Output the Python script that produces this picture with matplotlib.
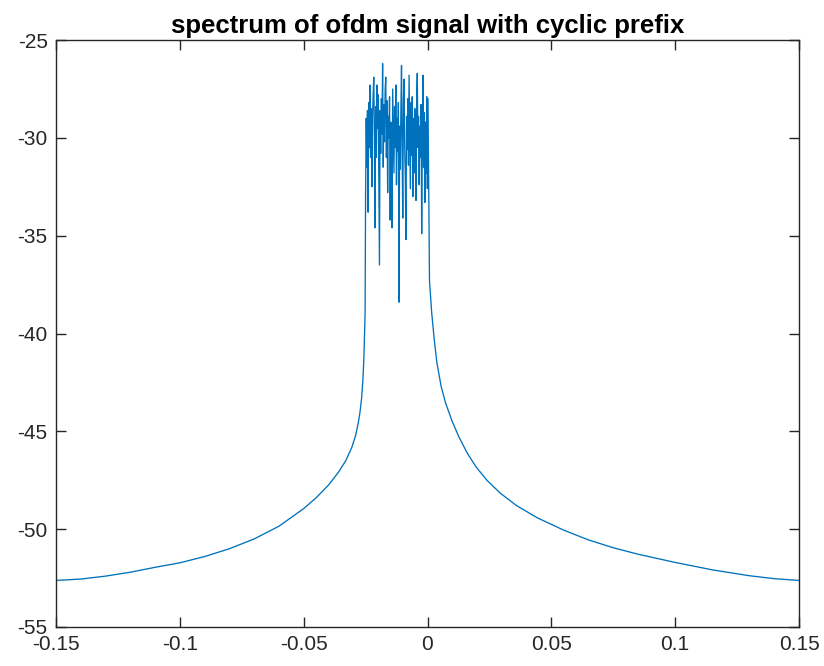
import numpy as np
import matplotlib.pyplot as plt

plt.rcParams['font.family'] = ['Liberation Sans', 'DejaVu Sans']
plt.rcParams['axes.unicode_minus'] = False

# left tail (frequency, dB)
left_f = [-0.150, -0.140, -0.130, -0.120, -0.110, -0.100, -0.090, -0.080, -0.070,
          -0.060, -0.050, -0.045, -0.040, -0.036, -0.033, -0.0305, -0.029, -0.028,
          -0.0273, -0.0266, -0.0261, -0.0257, -0.0254, -0.0252]
left_db = [-52.62, -52.55, -52.40, -52.20, -51.95, -51.72, -51.40, -51.00, -50.50,
           -49.85, -48.95, -48.40, -47.75, -47.10, -46.50, -45.80, -45.20, -44.60,
           -44.06, -43.30, -42.40, -41.30, -40.00, -39.00]

# noisy in-band part, read left to right
band_db = [-33.0, -29.0, -31.5, -28.6, -33.8, -28.2, -30.5,
           -27.3, -31.0, -28.5, -32.5, -29.0, -27.8,
           -26.9, -30.0, -34.6, -28.4, -31.0, -27.3,
           -29.5, -27.8, -32.0, -36.5, -28.6, -30.8, -28.0,
           -29.8, -26.2, -31.5, -28.3, -30.2, -27.6,
           -26.9, -31.0, -28.1, -32.8, -28.9, -30.0,
           -27.9, -34.2, -29.2, -31.2, -34.6, -27.5,
           -29.6, -31.8, -28.4, -30.5, -27.3, -32.4, -29.0,
           -30.7, -28.2, -38.4, -29.4, -31.6, -28.6,
           -26.3, -30.8, -34.1, -28.1, -27.0, -30.4,
           -32.0, -35.2, -28.9, -30.6, -28.0, -31.4,
           -26.8, -29.6, -32.6, -28.2, -30.9, -27.9, -33.0,
           -29.0, -31.8, -28.5, -30.2, -33.2, -28.1,
           -26.7, -30.5, -28.9, -32.4, -29.4, -31.0,
           -28.3, -34.9, -29.7, -26.8, -31.5, -28.7,
           -33.3, -29.2, -31.8, -27.9, -32.6, -28.0]
band_start, band_end = -0.0250, 0.0002

# right tail
right_f = [0.0008, 0.0017, 0.0028, 0.0038, 0.0055, 0.0073, 0.0100, 0.0127, 0.0160,
           0.0196, 0.0240, 0.0293, 0.0360, 0.0445, 0.055, 0.065, 0.075, 0.085,
           0.100, 0.115, 0.130, 0.140, 0.150]
right_db = [-37.30, -38.95, -40.40, -41.50, -42.70, -43.55, -44.50, -45.29, -46.10,
            -46.82, -47.50, -48.15, -48.80, -49.43, -50.05, -50.55, -50.95, -51.28,
            -51.70, -52.08, -52.38, -52.53, -52.62]

band_f = np.linspace(band_start, band_end, len(band_db))
f = np.concatenate([left_f, band_f, right_f])
db = np.concatenate([left_db, band_db, right_db])

fig = plt.figure(figsize=(8.24, 6.66), dpi=100)
ax = fig.add_axes([56/824, 39/666, 743/824, 587/666])
ax.plot(f, db, color='#0072BD', lw=0.95)

ax.set_xlim(-0.15, 0.15)
ax.set_ylim(-55, -25)
ax.set_xticks([-0.15, -0.1, -0.05, 0, 0.05, 0.1, 0.15])
ax.set_xticklabels(['-0.15', '-0.1', '-0.05', '0', '0.05', '0.1', '0.15'])
ax.set_yticks([-55, -50, -45, -40, -35, -30, -25])
ax.tick_params(direction='in', length=7, width=1, top=True, right=True,
               labelsize=15, colors='#262626', pad=6)
for s in ax.spines.values():
    s.set_linewidth(1)
    s.set_color('#262626')
ax.set_title('spectrum of ofdm signal with cyclic prefix', fontsize=18.5,
             fontweight='bold', pad=5)

fig.savefig('out.png', dpi=100)
